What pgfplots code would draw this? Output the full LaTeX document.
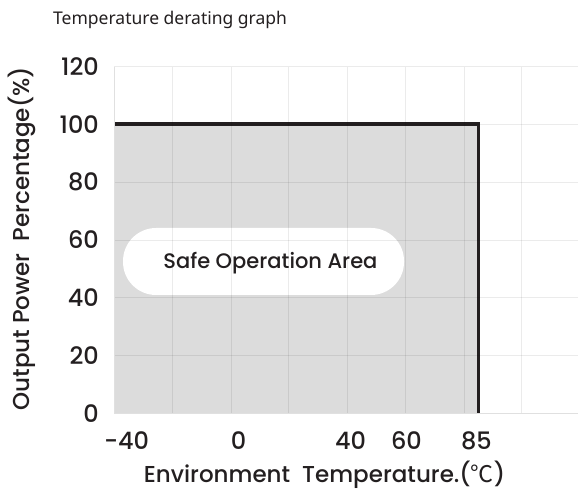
\documentclass[border=0pt]{standalone}
\usepackage{pgfplots}
\pgfplotsset{compat=1.18}
\usepackage{fontspec}
\setmainfont{Poppins}[UprightFont={* Medium}]
\newfontfamily\titlefont{Noto Sans}
\newfontfamily\cjk{Noto Sans CJK SC}
\definecolor{fillgray}{HTML}{DCDCDC}
\definecolor{linedark}{HTML}{231F20}
\definecolor{txt}{HTML}{231F20}
\begin{document}
\begin{tikzpicture}
\path[use as bounding box] (0,0) rectangle (578bp,492bp);
\node[anchor=base west, inner sep=0pt, text=txt] at (53bp,467bp) {\titlefont\fontsize{17.5bp}{20bp}\selectfont Temperature derating graph};
\begin{axis}[
  at={(114bp,78.7bp)}, anchor=south west,
  scale only axis, width=464bp, height=346.6bp,
  xmin=-45.4, xmax=120.4, ymin=0, ymax=120,
  axis on top,
  axis line style={draw=black!12, line width=0.8bp},
  axis x line*=bottom, axis y line*=left,
  xtick={-40,0,40,60,85},
  ytick={0,20,40,60,80,100,120},
  minor xtick={-24.42,-3.58,17.04,37.99,58.72,79.7,100.31,120.4},
  minor ytick={20,40,60,80,100,120},
  xmajorgrids=false, ymajorgrids=false,
  xminorgrids=true, yminorgrids=true,
  minor grid style={black, opacity=0.08, line width=0.8bp},
  major tick length=0pt, minor tick length=0pt,
  tick style={draw=none},
  ticklabel style={text=txt},
  xticklabel style={font=\fontsize{24bp}{26bp}\selectfont, inner sep=0pt, yshift=-18bp, xshift=-2.5bp},
  yticklabel style={font=\fontsize{24bp}{26bp}\selectfont, inner sep=0pt, xshift=-15bp},
  /pgf/number format/assume math mode=true,
  xlabel={Environment\ \ Temperature.({\cjk ℃})},
  ylabel={Output Power\ \ Percentage(\%)},
  label style={text=txt, font=\fontsize{23bp}{26bp}\selectfont},
  xlabel style={at={(axis description cs:0.4537,0)}, anchor=center, yshift=-61bp},
  ylabel style={at={(axis description cs:0,0.504)}, anchor=center, yshift=92bp},
  clip=false,
]
\addplot[fill=fillgray, draw=none] coordinates {(-45.4,0) (-45.4,100) (85,100) (85,0)} -- cycle;
\addplot[draw=linedark, line width=3bp] coordinates {(85,100) (85,0)};
\addplot[draw=linedark, line width=4bp] coordinates {(-45.4,100) (85.4,100)};
\node[fill=white, draw=none, rounded corners=33bp, minimum width=281bp, minimum height=67bp, inner sep=0pt] at (axis cs:8.03,52.56) {};
\node[text=txt, font=\fontsize{21bp}{24bp}\selectfont, inner sep=0pt, yshift=-2bp] at (axis cs:10.5,52.6) {Safe Operation Area};
\end{axis}
\end{tikzpicture}
\end{document}
